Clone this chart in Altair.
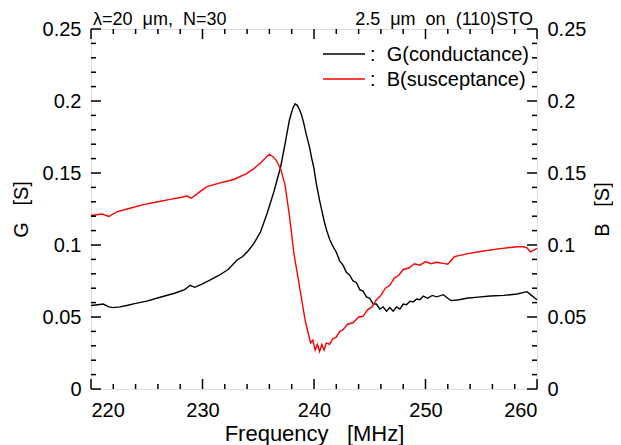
import altair as alt
import pandas as pd

# ---- data ----
g_freq = [220.0, 220.6, 221.1, 221.6, 222.0, 222.6, 223.2, 224.0, 225.0, 226.2, 227.5, 228.4, 228.9, 229.3,
          230.0, 230.7, 231.5, 232.3, 233.1, 233.6, 234.1, 234.6, 235.2, 235.8, 236.4, 237.0, 237.4, 237.8,
          238.1, 238.3, 238.5, 238.7, 238.9, 239.1, 239.3, 239.6, 239.8, 240.0, 240.2, 240.5, 240.7, 240.9,
          241.1, 241.4, 241.7, 242.0, 242.3, 242.6, 242.9, 243.2, 243.5, 243.8, 244.1, 244.4, 244.7, 245.0,
          245.3, 245.6, 245.9, 246.2, 246.5, 246.8, 247.1, 247.4, 247.7, 248.0, 248.3, 248.6, 248.9, 249.2,
          249.5, 249.8, 250.2, 250.6, 251.0, 251.6, 252.0, 252.3, 253.0, 253.7, 254.7, 255.8, 257.0, 258.2,
          259.1, 259.5, 260.0]
g_val = [0.058, 0.0585, 0.059, 0.057, 0.0565, 0.057, 0.058, 0.0595, 0.061, 0.0637, 0.0665, 0.069, 0.072, 0.0706,
         0.073, 0.0757, 0.079, 0.083, 0.0896, 0.092, 0.096, 0.101, 0.109, 0.122, 0.137, 0.154, 0.170, 0.187,
         0.195, 0.198, 0.197, 0.194, 0.190, 0.184, 0.177, 0.168, 0.160, 0.153, 0.143, 0.131, 0.124, 0.117,
         0.111, 0.104, 0.099, 0.095, 0.089, 0.086, 0.081, 0.079, 0.075, 0.074, 0.069, 0.068, 0.064, 0.063,
         0.059, 0.059, 0.0555, 0.057, 0.054, 0.0565, 0.054, 0.057, 0.0555, 0.059, 0.0585, 0.061, 0.0605, 0.0625,
         0.062, 0.0645, 0.063, 0.065, 0.064, 0.0655, 0.063, 0.0614, 0.062, 0.063, 0.0638, 0.0646, 0.065, 0.066,
         0.0676, 0.065, 0.062]

b_freq = [220.0, 220.5, 221.0, 221.6, 222.3, 223.5, 224.7, 226.0, 227.1, 228.0, 228.6, 229.0, 229.6, 230.4,
          231.5, 232.8, 234.0, 234.6, 235.2, 235.7, 236.0, 236.3, 236.6, 237.0, 237.4, 237.8, 238.2, 238.6,
          238.9, 239.2, 239.5, 239.7, 239.9, 240.1, 240.3, 240.5, 240.7, 240.9, 241.1, 241.4, 241.7, 242.0,
          242.3, 242.6, 243.0, 243.5, 244.0, 244.4, 244.8, 245.2, 245.6, 246.0, 246.4, 246.8, 247.2, 247.6,
          248.0, 248.5, 249.0, 249.5, 250.0, 250.5, 251.0, 251.6, 252.0, 252.6, 253.8, 255.2, 256.7, 258.2,
          258.8, 259.1, 259.4, 260.0]
b_val = [0.1205, 0.121, 0.1215, 0.1198, 0.123, 0.1255, 0.128, 0.130, 0.1317, 0.133, 0.134, 0.1325, 0.136, 0.1405,
         0.143, 0.1455, 0.1497, 0.153, 0.157, 0.161, 0.163, 0.1615, 0.159, 0.153, 0.142, 0.120, 0.094, 0.0757,
         0.0618, 0.048, 0.038, 0.032, 0.034, 0.027, 0.031, 0.026, 0.031, 0.027, 0.032, 0.031, 0.035, 0.036,
         0.040, 0.041, 0.045, 0.046, 0.050, 0.0505, 0.055, 0.057, 0.062, 0.065, 0.070, 0.072, 0.077, 0.079,
         0.083, 0.084, 0.087, 0.086, 0.0885, 0.087, 0.088, 0.0872, 0.0866, 0.0919, 0.094, 0.0958, 0.0975, 0.0988,
         0.0988, 0.098, 0.0953, 0.0977]

series_names = ["G(conductance)", "B(susceptance)"]
series_colors = ["black", "red"]

x_major = [220, 230, 240, 250, 260]
x_minor = [222, 224, 226, 228, 232, 234, 236, 238, 242, 244, 246, 248, 252, 254, 256, 258]
y_major = [0, 0.05, 0.1, 0.15, 0.2, 0.25]
y_minor = [0.01, 0.02, 0.03, 0.04, 0.06, 0.07, 0.08, 0.09, 0.11, 0.12, 0.13, 0.14,
           0.16, 0.17, 0.18, 0.19, 0.21, 0.22, 0.23, 0.24]

title_left = "\u03bb=20\u00a0 \u03bcm,\u00a0 N=30"
title_right = "2.5\u00a0 \u03bcm\u00a0 on\u00a0 (110)STO"
x_title = "Frequency\u00a0\u00a0 [MHz]"
yl_title = "G\u00a0\u00a0 [S]"
yr_title = "B\u00a0\u00a0 [S]"

# ---- layout ----
W, H = 446, 360
FONT = "Liberation Sans"
MAJ, MIN = 10, 5

df = pd.concat([
    pd.DataFrame({"freq": g_freq, "val": g_val, "series": series_names[0]}),
    pd.DataFrame({"freq": b_freq, "val": b_val, "series": series_names[1]}),
])

xs = alt.Scale(domain=[220, 260], nice=False, zero=False)
ys = alt.Scale(domain=[0, 0.25], nice=False, zero=False)

lines = alt.Chart(df).mark_line(strokeWidth=1.4).encode(
    x=alt.X("freq:Q", scale=xs, axis=alt.Axis(values=x_major, format="d", title=x_title, ticks=False, tickSize=0,
                                            domain=False, grid=False, labelPadding=11, titlePadding=3,
                                            labelFontSize=20, titleFontSize=22, titleFontWeight="normal")),
    y=alt.Y("val:Q", scale=ys, axis=alt.Axis(orient="left", values=y_major, format="~g", title=yl_title,
                                           ticks=False, tickSize=0, domain=False, grid=False,
                                           labelPadding=10, titlePadding=11, labelFontSize=20, titleFontSize=20,
                                           titleFontWeight="normal")),
    color=alt.Color("series:N", scale=alt.Scale(domain=series_names, range=series_colors), legend=None),
)


def xticks(vals, length, top):
    d = pd.DataFrame({"t": vals})
    y0 = 0 if top else H
    y1 = length if top else H - length
    return alt.Chart(d).mark_rule(strokeWidth=1.5, color="black").encode(
        x=alt.X("t:Q", scale=xs, axis=None), y=alt.value(y0), y2=alt.value(y1))


def yticks(vals, length, right, axis=None):
    d = pd.DataFrame({"v": vals})
    x0 = W if right else 0
    x1 = W - length if right else length
    return alt.Chart(d).mark_rule(strokeWidth=1.5, color="black").encode(
        y=alt.Y("v:Q", scale=ys, axis=axis), x=alt.value(x0), x2=alt.value(x1))


right_axis = alt.Axis(orient="right", values=y_major, format="~g", title=yr_title, ticks=False, tickSize=0,
                      domain=False, grid=False, labelPadding=10, titlePadding=7, labelFontSize=20,
                      titleFontSize=20, titleFontWeight="normal", titleAngle=270, titleBaseline="top")

tick_layers = [
    xticks(x_major, MAJ, False), xticks(x_minor, MIN, False),
    xticks(x_major, MAJ, True), xticks(x_minor, MIN, True),
    yticks(y_major, MAJ, False), yticks(y_minor, MIN, False),
    yticks(y_major, MAJ, True, axis=right_axis), yticks(y_minor, MIN, True),
]

# top annotations
tl = alt.Chart(pd.DataFrame({"t": [title_left]})).mark_text(
    align="left", baseline="alphabetic", fontSize=18, font=FONT).encode(
    text="t:N", x=alt.value(2), y=alt.value(-4))
tr = alt.Chart(pd.DataFrame({"t": [title_right]})).mark_text(
    align="right", baseline="alphabetic", fontSize=18, font=FONT).encode(
    text="t:N", x=alt.value(W - 4), y=alt.value(-4))

# legend (drawn by hand)
leg_layers = []
for i, (name, col) in enumerate(zip(series_names, series_colors)):
    yy = 25 + 25 * i
    leg_layers.append(alt.Chart(pd.DataFrame({"n": [name]})).mark_rule(strokeWidth=1.5).encode(
        x=alt.value(232), x2=alt.value(274), y=alt.value(yy), color=alt.value(col)))
    leg_layers.append(alt.Chart(pd.DataFrame({"n": [":\u00a0 " + name]})).mark_text(
        align="left", baseline="middle", fontSize=20, font=FONT).encode(
        text="n:N", x=alt.value(279), y=alt.value(yy + 1)))

chart = alt.layer(lines, *tick_layers, tl, tr, *leg_layers).resolve_axis(
    x="independent", y="independent"
).properties(
    width=W, height=H,
    autosize=alt.AutoSizeParams(type="none"),
    padding={"left": 83, "top": 21, "right": 76, "bottom": 56},
).configure_view(stroke="black", strokeWidth=2).configure_axis(
    labelFont=FONT, titleFont=FONT, labelColor="black", titleColor="black"
).configure(background="white")

chart.save("out.html", embed_options={"renderer": "svg", "actions": False})
